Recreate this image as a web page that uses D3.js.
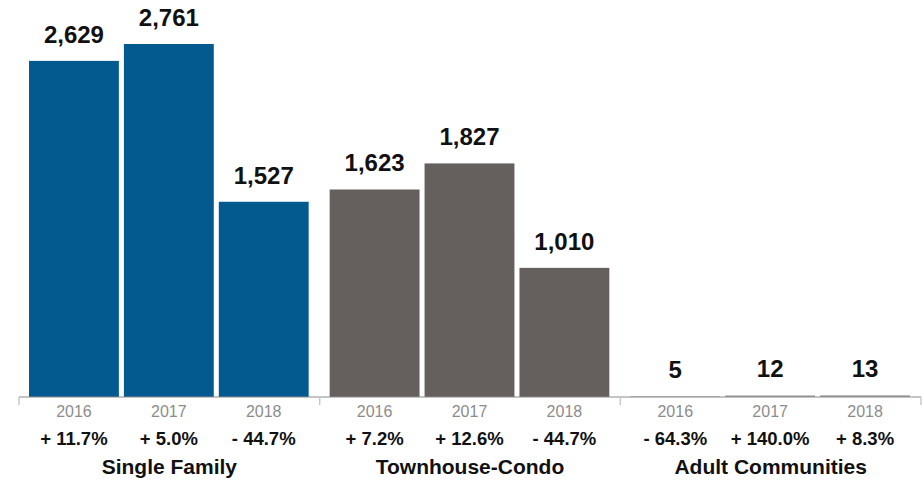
<!DOCTYPE html>
<html>
<head>
<meta charset="utf-8">
<script src="https://cdn.jsdelivr.net/npm/d3@7"></script>
<style>
  body { margin: 0; background: #fff; }
  text { font-family: "Liberation Sans", Arial, Helvetica, sans-serif; }
</style>
</head>
<body>
<svg id="chart"></svg>
<script>
const categories = ['Single Family', 'Townhouse-Condo', 'Adult Communities'];
const years = ['2016', '2017', '2018'];
const values = [
    [2629, 2761, 1527],
    [1623, 1827, 1010],
    [5, 12, 13]
];
const changes = [
    ['+ 11.7%', '+ 5.0%', '- 44.7%'],
    ['+ 7.2%', '+ 12.6%', '- 44.7%'],
    ['- 64.3%', '+ 140.0%', '+ 8.3%']
];
const colors = ['#035a8f', '#655f5e', '#9a9696'];

const width = 922, height = 481;
const base = 397;

const svg = d3.select('#chart')
    .attr('width', width)
    .attr('height', height);

const x0 = d3.scaleBand()
    .domain(categories)
    .range([19, 921])
    .padding(0);

const x1 = d3.scaleBand()
    .domain(years)
    .range([10, x0.bandwidth() - 11])
    .paddingInner(0.053)
    .paddingOuter(0);

const y = d3.scaleLinear()
    .domain([0, 2761])
    .range([base, 44]);

const rows = [];
categories.forEach((c, i) => {
    years.forEach((yr, j) => {
        rows.push({cat: c, year: yr, value: values[i][j], change: changes[i][j], color: colors[i]});
    });
});

const groups = svg.selectAll('g.group')
    .data(categories)
    .join('g')
    .attr('class', 'group')
    .attr('transform', d => `translate(${x0(d)},0)`);

groups.each(function(c) {
    const g = d3.select(this);
    const data = rows.filter(r => r.cat === c);

    g.selectAll('rect')
        .data(data)
        .join('rect')
        .attr('x', d => x1(d.year))
        .attr('y', d => y(d.value))
        .attr('width', x1.bandwidth())
        .attr('height', d => base - y(d.value))
        .attr('fill', d => d.color);

    g.selectAll('text.value')
        .data(data)
        .join('text')
        .attr('class', 'value')
        .attr('x', d => x1(d.year) + x1.bandwidth() / 2)
        .attr('y', d => y(d.value) - 18)
        .attr('text-anchor', 'middle')
        .style('font-size', '24px')
        .style('font-weight', 'bold')
        .attr('fill', '#111')
        .text(d => d3.format(',')(d.value));

    g.selectAll('text.year')
        .data(data)
        .join('text')
        .attr('class', 'year')
        .attr('x', d => x1(d.year) + x1.bandwidth() / 2)
        .attr('y', 417)
        .attr('text-anchor', 'middle')
        .style('font-size', '16px')
        .attr('fill', '#8c8c8c')
        .text(d => d.year);

    g.selectAll('text.change')
        .data(data)
        .join('text')
        .attr('class', 'change')
        .attr('x', d => x1(d.year) + x1.bandwidth() / 2)
        .attr('y', 445)
        .attr('text-anchor', 'middle')
        .style('font-size', '18.5px')
        .style('font-weight', 'bold')
        .attr('fill', '#111')
        .text(d => d.change);

    g.append('text')
        .attr('x', x0.bandwidth() / 2)
        .attr('y', 474)
        .attr('text-anchor', 'middle')
        .style('font-size', '21px')
        .style('font-weight', 'bold')
        .attr('fill', '#111')
        .text(c);
});

// axis line with group separators
const axis = svg.append('g')
    .attr('transform', `translate(0,${base})`);

axis.append('line')
    .attr('x1', 19)
    .attr('x2', 921)
    .attr('stroke', '#8a8a8a')
    .attr('stroke-width', 1.2);

const ticks = categories.map(c => x0(c)).concat([x0.range()[1]]);
axis.selectAll('line.tick')
    .data(ticks)
    .join('line')
    .attr('class', 'tick')
    .attr('x1', d => d)
    .attr('x2', d => d)
    .attr('y1', 0)
    .attr('y2', 8)
    .attr('stroke', '#c8c8c8')
    .attr('stroke-width', 1.5);
</script>
</body>
</html>
